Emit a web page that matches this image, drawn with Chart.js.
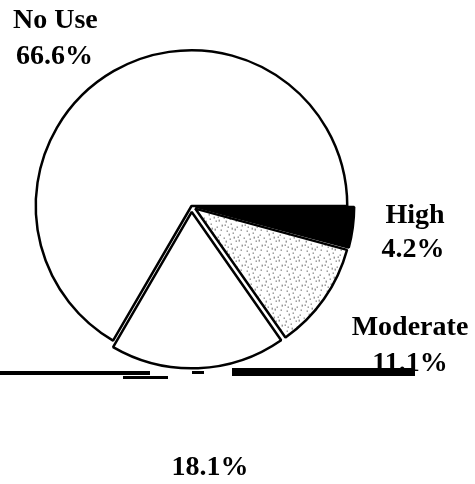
<!DOCTYPE html>
<html>
<head>
<meta charset="utf-8">
<script src="https://cdn.jsdelivr.net/npm/chart.js@4/dist/chart.umd.min.js"></script>
<style>
html,body{margin:0;padding:0;background:#fff;}
#wrap{width:475px;height:484px;position:relative;}
</style>
</head>
<body>
<div id="wrap"><canvas id="c" width="475" height="484"></canvas></div>
<script>
// Data (clockwise from 3 o'clock)
const categories = ["High", "Moderate", "Low", "No Use"];
const values = [4.2, 11.1, 18.1, 66.6];
const shownNames = ["High", "Moderate", "", "No Use"];
const percentLabels = ["4.2%", "11.1%", "18.1%", "66.6%"];

// stipple pattern for "Moderate"
function stipple() {
  const p = document.createElement('canvas');
  p.width = 20; p.height = 20;
  const g = p.getContext('2d');
  g.fillStyle = '#fff'; g.fillRect(0, 0, 20, 20);
  g.fillStyle = '#222';
  const dots = [[1,2],[7,1],[13,4],[3,8],[9,10],[16,12],[0,15],[6,16],[12,18],[17,7],[4,4],[14,14]];
  dots.forEach(d => g.fillRect(d[0], d[1], 1, 1));
  g.fillStyle = '#666';
  [[5,11],[11,6],[18,2],[2,18],[8,5],[15,17],[10,14]].forEach(d => g.fillRect(d[0], d[1], 1, 2));
  return g.createPattern(p, 'repeat');
}
const ctx0 = document.getElementById('c').getContext('2d');
const fills = ['#000', stipple(), '#fff', '#fff'];

const labelPlugin = {
  id: 'labels',
  afterDraw(chart) {
    const ctx = chart.ctx;
    ctx.save();
    ctx.fillStyle = '#000';
    ctx.font = 'bold 28px "Liberation Serif", "Times New Roman", serif';
    ctx.textBaseline = 'alphabetic';
    // No Use
    ctx.textAlign = 'left';
    ctx.fillText(shownNames[3], 13, 28);
    ctx.fillText(percentLabels[3], 16, 64);
    // High
    ctx.textAlign = 'center';
    ctx.fillText(shownNames[0], 415, 223);
    ctx.fillText(percentLabels[0], 413, 257);
    // Moderate
    ctx.fillText(shownNames[1], 410, 335);
    ctx.fillText(percentLabels[1], 410, 371);
    // Low (name cut off in source)
    ctx.fillText(percentLabels[2], 210, 475);
    // scan line artifact
    ctx.fillRect(0, 371, 150, 4);
    ctx.fillRect(232, 368, 183, 8);
    ctx.fillRect(123, 376, 45, 3);
    ctx.fillRect(192, 371, 12, 3);
    ctx.restore();
  }
};

new Chart(ctx0, {
  type: 'pie',
  data: {
    labels: categories,
    datasets: [{
      data: values,
      backgroundColor: fills,
      borderColor: '#000',
      borderWidth: 2.5,
      offset: [16, 18, 24, 0],
      hoverOffset: 0
    }]
  },
  options: {
    responsive: false,
    animation: false,
    rotation: 90,
    layout: { padding: { left: 22, right: 114, top: 37, bottom: 109 } },
    plugins: {
      legend: { display: false },
      tooltip: { enabled: false }
    }
  },
  plugins: [labelPlugin]
});
</script>
</body>
</html>
